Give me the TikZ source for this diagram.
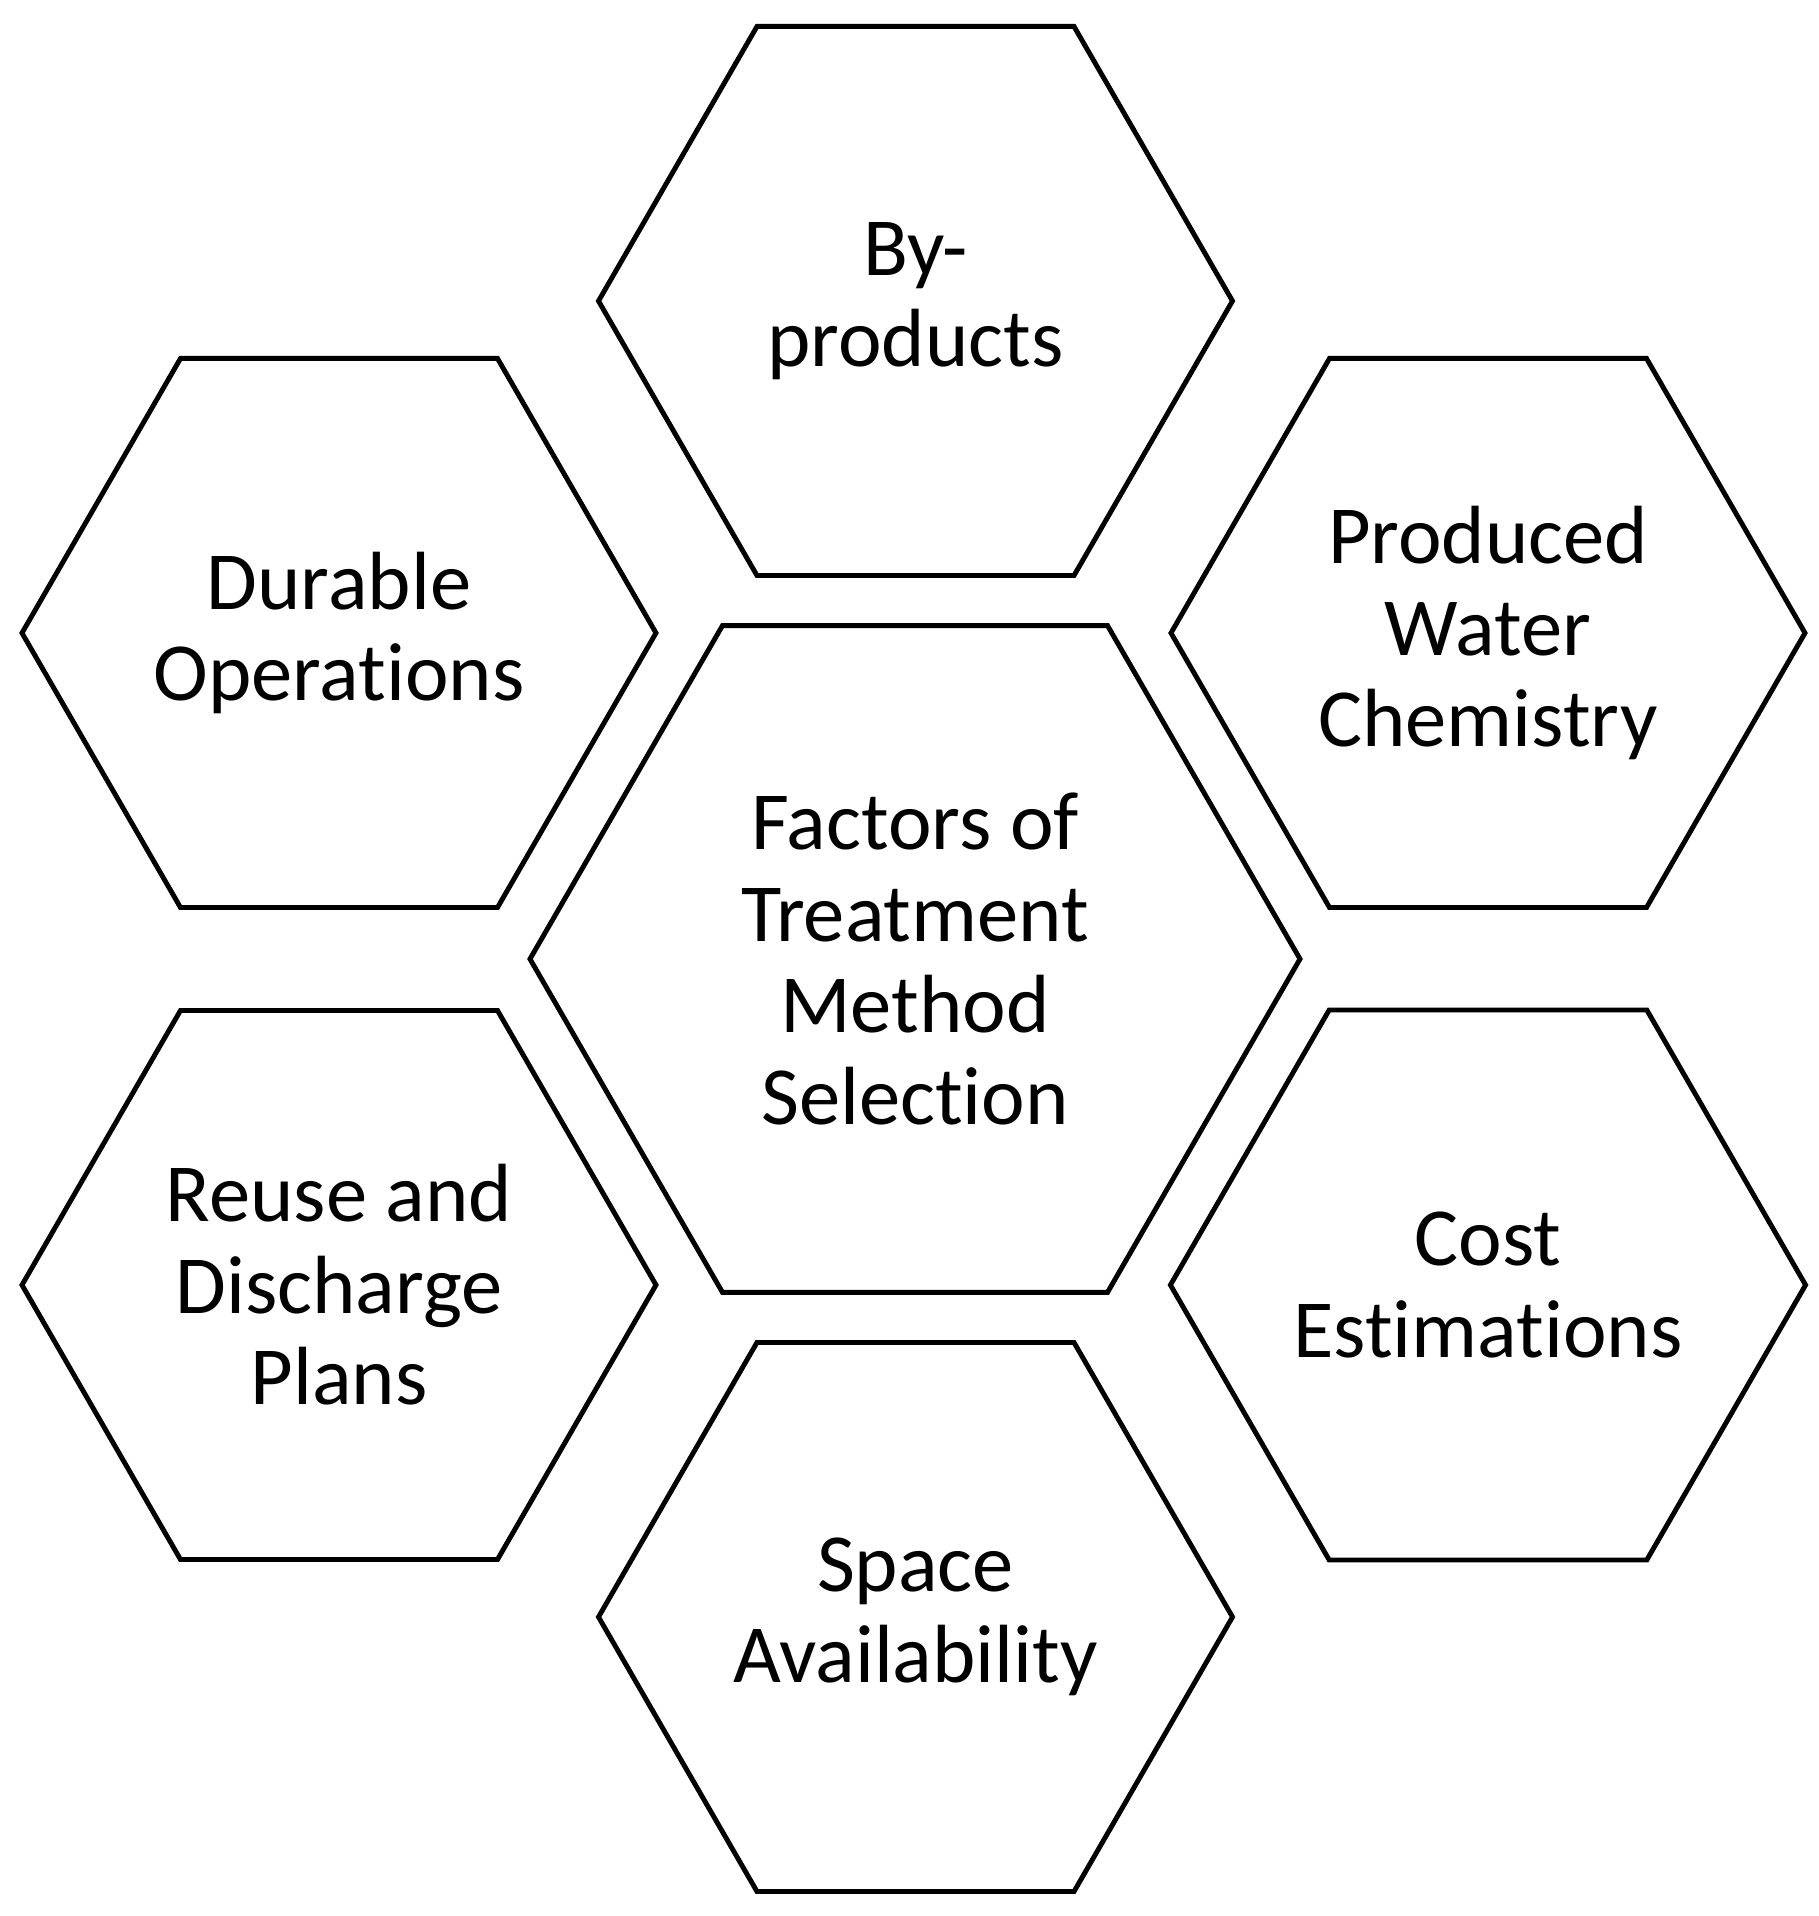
\documentclass[tikz,border=0pt]{standalone}
\usepackage{fontspec}
\setmainfont{Carlito}[Ligatures=NoCommon]
\usetikzlibrary{shapes.geometric}
\newcommand{\klein}{6.34cm}
\newcommand{\gross}{7.70cm}

\begin{document}
\begin{tikzpicture}[thick,
	wabe/.style={draw=black, line width=1.4pt, regular polygon, regular polygon sides=6,
		inner sep=0pt, minimum size=\klein, align=center,
		font=\fontsize{23.5}{26}\selectfont}]

\useasboundingbox (0,0) rectangle (18.19,19.16);

\node[wabe, minimum size=\gross] (mitte) at (9.15,9.57) {Factors of\\Treatment\\Method\\Selection};

\node[wabe] (oben) at (9.155,16.15) {By-\\products};
\node[wabe] (linksoben) at (3.39,12.83) {Durable\\Operations};
\node[wabe] (rechtsoben) at (14.88,12.83) {Produced\\Water\\Chemistry};
\node[wabe] (linksunten) at (3.39,6.31) {Reuse and\\Discharge\\Plans};
\node[wabe] (rechtsunten) at (14.88,6.31) {Cost\\Estimations};
\node[wabe] (unten) at (9.155,2.99) {Space\\Availability};

\end{tikzpicture}
\end{document}
